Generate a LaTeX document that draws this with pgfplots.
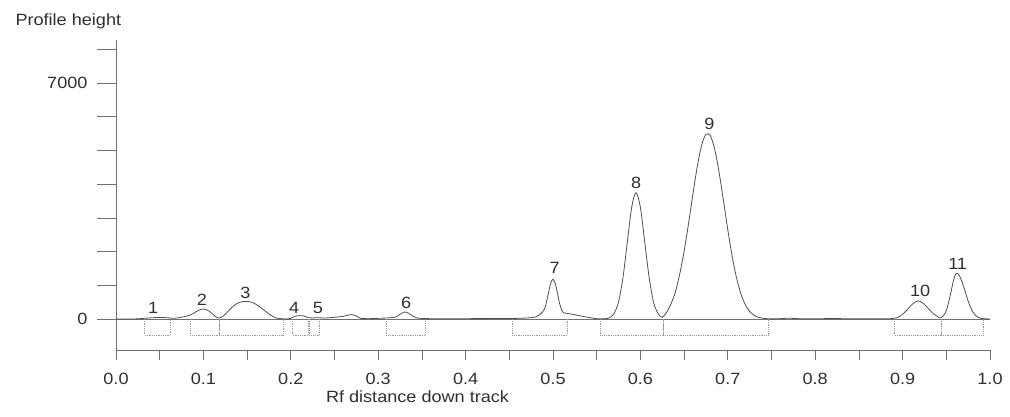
\documentclass[border=0pt]{standalone}
\usepackage{fontspec}
\setmainfont[FakeStretch=1.11]{Liberation Sans}
\usepackage{pgfplots}
\pgfplotsset{compat=1.18}

\definecolor{curvecol}{HTML}{4F4F4F}
\definecolor{axiscol}{HTML}{707070}
\definecolor{boxcol}{HTML}{9A9A9A}
\definecolor{textcol}{HTML}{303030}

\begin{document}
\begin{tikzpicture}
\path[use as bounding box] (-116pt,-67pt) rectangle (894pt,350pt);
\begin{axis}[
    at={(0pt,0pt)}, anchor=south west,
    scale only axis, width=874pt, height=310pt,
    xmin=0, xmax=1, ymin=-920, ymax=8280,
    axis lines=left,
    axis line style={-, draw=axiscol, line width=0.8pt},
    clip=false,
    font=\fontsize{16.3}{19}\selectfont,
    tick align=outside,
    major tick length=10pt, minor tick length=10pt,
    tick style={draw=axiscol, line width=0.8pt},
    xtick={0,0.1,0.2,0.3,0.4,0.5,0.6,0.7,0.8,0.9,1},
    xticklabels={0.0,0.1,0.2,0.3,0.4,0.5,0.6,0.7,0.8,0.9,1.0},
    minor xtick={0.05,0.15,0.25,0.35,0.45,0.55,0.65,0.75,0.85,0.95},
    ytick={0,1000,2000,3000,4000,5000,6000,7000,8000},
    yticklabels={0,{},{},{},{},{},{},7000,{}},
    y tick style={/pgfplots/major tick length=19pt},
    ticklabel style={text=textcol},
    xticklabel style={yshift=-10pt},
    yticklabel style={xshift=-15pt},
    xlabel={Rf distance down track},
    xlabel style={at={(axis description cs:0.345,0)}, anchor=center, yshift=-47pt, text=textcol},
    ylabel={Profile height},
    ylabel style={rotate=-90, at={(axis description cs:0,1)}, anchor=base west, xshift=-104pt, yshift=15pt, text=textcol},
]
% baseline
\addplot[axiscol, line width=0.8pt] coordinates {(0,0) (1,0)};

% peak integration boxes
\addplot[boxcol, densely dotted, line width=0.8pt] coordinates {(0.033,0) (0.033,-475) (0.062,-475) (0.062,0)};
\addplot[boxcol, densely dotted, line width=0.8pt] coordinates {(0.085,0) (0.085,-475) (0.118,-475) (0.118,0)};
\addplot[boxcol, densely dotted, line width=0.8pt] coordinates {(0.118,0) (0.118,-475) (0.191,-475) (0.191,0)};
\addplot[boxcol, densely dotted, line width=0.8pt] coordinates {(0.202,0) (0.202,-475) (0.220,-475) (0.220,0)};
\addplot[boxcol, densely dotted, line width=0.8pt] coordinates {(0.221,0) (0.221,-475) (0.233,-475) (0.233,0)};
\addplot[boxcol, densely dotted, line width=0.8pt] coordinates {(0.309,0) (0.309,-475) (0.354,-475) (0.354,0)};
\addplot[boxcol, densely dotted, line width=0.8pt] coordinates {(0.453,0) (0.453,-475) (0.516,-475) (0.516,0)};
\addplot[boxcol, densely dotted, line width=0.8pt] coordinates {(0.554,0) (0.554,-475) (0.626,-475) (0.626,0)};
\addplot[boxcol, densely dotted, line width=0.8pt] coordinates {(0.626,0) (0.626,-475) (0.746,-475) (0.746,0)};
\addplot[boxcol, densely dotted, line width=0.8pt] coordinates {(0.891,0) (0.891,-475) (0.944,-475) (0.944,0)};
\addplot[boxcol, densely dotted, line width=0.8pt] coordinates {(0.944,0) (0.944,-475) (0.992,-475) (0.992,0)};

% densitometry profile
\addplot[curvecol, line width=0.8pt, smooth, tension=0.5] coordinates {
(0.000,0) (0.020,0) (0.030,15) (0.040,35) (0.050,45) (0.060,35) (0.065,20)
(0.070,30) (0.075,55) (0.080,80) (0.085,120) (0.090,190) (0.095,265)
(0.100,297) (0.105,260) (0.110,160) (0.115,50) (0.118,30) (0.122,70)
(0.125,140) (0.130,280) (0.135,400) (0.140,480) (0.145,515) (0.150,520)
(0.155,500) (0.160,440) (0.165,350) (0.170,250) (0.175,150) (0.180,70)
(0.185,20) (0.190,5) (0.195,0) (0.200,20) (0.205,80) (0.210,100)
(0.215,90) (0.220,40) (0.225,30) (0.230,40) (0.240,30) (0.250,50)
(0.260,80) (0.265,110) (0.270,130) (0.275,90) (0.280,20) (0.290,10)
(0.300,20) (0.310,30) (0.320,60) (0.325,140) (0.330,207) (0.335,170)
(0.340,80) (0.345,30) (0.350,15) (0.360,10) (0.400,10) (0.450,15)
(0.470,30) (0.480,60) (0.485,130) (0.490,280) (0.4925,500) (0.495,800)
(0.4975,1070) (0.500,1180) (0.5025,1060) (0.505,780) (0.5075,470)
(0.510,260) (0.5125,180) (0.515,170) (0.520,150) (0.530,100) (0.540,50)
(0.550,10) (0.555,5) (0.560,10) (0.565,42) (0.570,165) (0.575,507)
(0.580,1218) (0.585,2274) (0.590,3309) (0.595,3750) (0.600,3311)
(0.605,2278) (0.610,1229) (0.615,500) (0.620,170) (0.625,50) (0.630,200)
(0.635,450) (0.640,800) (0.645,1335) (0.650,2008) (0.655,2819)
(0.660,3692) (0.665,4513) (0.670,5148) (0.675,5480) (0.680,5442)
(0.685,5043) (0.690,4360) (0.695,3518) (0.700,2648) (0.705,1860)
(0.710,1219) (0.715,746) (0.720,425) (0.725,227) (0.730,113) (0.735,52)
(0.740,23) (0.745,9) (0.750,3) (0.760,10) (0.770,25) (0.780,10)
(0.800,5) (0.820,15) (0.840,5) (0.870,10) (0.885,5) (0.890,20)
(0.895,55) (0.900,140) (0.905,266) (0.910,410) (0.915,514) (0.918,534)
(0.920,525) (0.925,436) (0.930,295) (0.935,162) (0.940,75) (0.944,35)
(0.950,247) (0.955,759) (0.9575,1067) (0.960,1294) (0.962,1356)
(0.965,1290) (0.970,951) (0.975,531) (0.980,225) (0.985,72) (0.990,17)
(0.995,5) (1.000,0)
};

% peak numbers
\addplot[draw=none, mark=none, nodes near coords, point meta=explicit symbolic,
    nodes near coords style={anchor=center, text=textcol, inner sep=0pt}] coordinates {
(0.0426,326)[1] (0.0984,564)[2] (0.148,772)[3] (0.2037,326)[4] (0.231,326)[5]
(0.332,475)[6] (0.502,1513)[7] (0.595,4036)[8] (0.679,5786)[9]
(0.920,831)[10] (0.963,1632)[11]
};
\end{axis}
\end{tikzpicture}
\end{document}
